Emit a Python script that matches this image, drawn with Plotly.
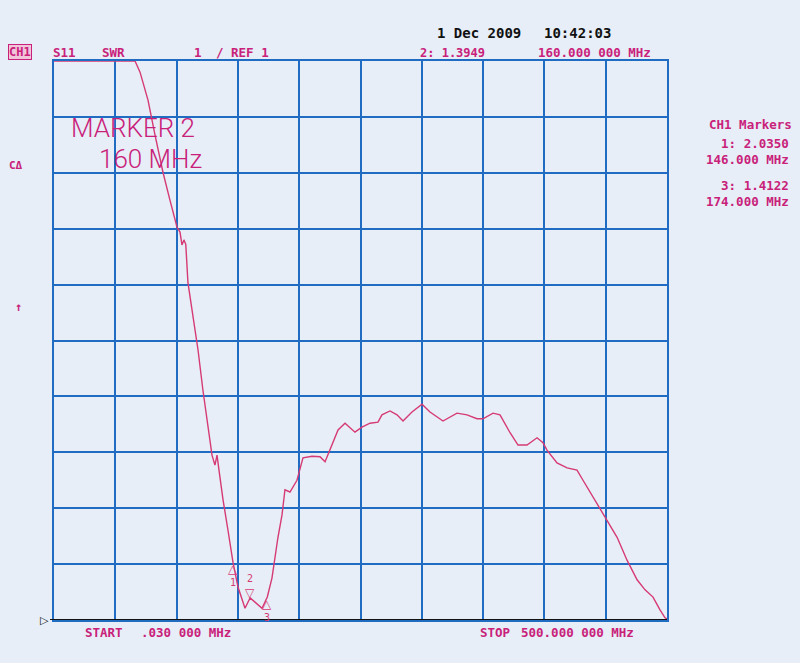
import plotly.graph_objects as go

# ---- data (MHz, SWR) ----
freq_mhz = [0.03, 20.0, 40.0, 60.0, 66.1, 70.2, 76.7, 82.4, 88.9, 94.6, 100.3, 102.8, 104.4,
            106.0, 107.5, 109.3, 113.4, 117.5, 121.5, 125.6, 128.9, 131.3, 133.0, 134.6,
            137.9, 141.9, 146.0, 150.1, 155.8, 160.0, 164.0, 169.7, 174.0, 177.8, 182.7,
            186.0, 188.4, 192.5, 198.2, 203.1, 210.5, 217.0, 221.1, 225.1, 231.7, 237.4,
            245.5, 251.2, 257.8, 264.3, 267.5, 274.1, 279.8, 284.7, 292.0, 300.2, 306.7,
            317.3, 328.7, 336.9, 345.0, 349.9, 358.1, 363.8, 372.0, 378.5, 385.8, 394.0,
            398.9, 402.1, 410.3, 418.5, 426.6, 431.5, 439.7, 447.8, 459.3, 467.4, 475.6,
            482.1, 488.6, 494.3, 498.4, 500.0]
swr = [11.0, 11.0, 11.0, 11.0, 11.0, 10.80, 10.30, 9.68, 9.01, 8.51, 8.03, 7.94, 7.71,
       7.80, 7.72, 7.03, 6.42, 5.83, 5.11, 4.49, 3.95, 3.77, 3.95, 3.68,
       3.15, 2.61, 2.035, 1.59, 1.21, 1.3949, 1.32, 1.21, 1.4122, 1.75, 2.48,
       2.88, 3.33, 3.29, 3.50, 3.90, 3.93, 3.92, 3.83, 4.04, 4.40, 4.52,
       4.36, 4.45, 4.52, 4.54, 4.67, 4.74, 4.67, 4.56, 4.72, 4.86, 4.72,
       4.56, 4.70, 4.67, 4.60, 4.60, 4.70, 4.67, 4.35, 4.13, 4.13, 4.26,
       4.17, 4.04, 3.81, 3.72, 3.68, 3.50, 3.20, 2.91, 2.48, 2.07, 1.72,
       1.54, 1.41, 1.18, 1.04, 1.02]

marker_ids = ["1", "2", "3"]
marker_freq = [146.0, 160.0, 174.0]
marker_swr = [2.0350, 1.3949, 1.4122]

start_mhz = 0.030
stop_mhz = 500.0
ref_swr = 1.0
swr_per_div = 1.0
n_div = 10

BG = "#e7eef7"
GRID = "#1f6cc2"
TRACE = "#d63a74"
MAG = "#c9217a"
MONO = "DejaVu Sans Mono"

# plot area in pixels (for placing text around the grid)
L, R, T, B = 54, 667, 61, 620


def px(x):
    return (x - L) / (R - L)


def py(y):
    return (B - y) / (B - T)


fig = go.Figure()
fig.add_trace(go.Scatter(x=freq_mhz, y=swr, mode="lines",
                         line=dict(color=TRACE, width=1.4), hoverinfo="skip",
                         showlegend=False))

ann = []


def txt(text, x, y, anchor="left", size=12, color=MAG, bold=False, family=MONO,
        weight=None, **kw):
    font = dict(family=family, size=size, color=color)
    if weight is not None:
        font["weight"] = weight
    ann.append(dict(text=("<b>%s</b>" % text) if bold else text, xref="paper", yref="paper",
                    x=px(x), y=py(y), xanchor=anchor, yanchor="middle", showarrow=False,
                    align=anchor if anchor != "center" else "center",
                    font=font, **kw))


# header
txt("CH1", 8, 52, size=12, bold=True, bordercolor=MAG, borderwidth=1, borderpad=0,
    bgcolor="#f1c6da")
txt("S11", 51, 52, size=12.5, bold=True)
txt("SWR", 100, 52, size=12.5, bold=True)
txt("%d" % swr_per_div, 192, 52, size=12.5, bold=True)
txt("/ REF %d" % ref_swr, 214, 52, size=12.5, bold=True)
txt("1 Dec 2009", 435, 33, size=14, bold=True, color="#111111")
txt("10:42:03", 542, 33, size=14, bold=True, color="#111111")
txt("2: %.4f" % marker_swr[1], 418, 53, size=12, bold=True)
txt("%.3f 000 MHz" % marker_freq[1], 536, 53, size=12.5, bold=True)

# right marker table
txt("CH1 Markers", 794, 125, anchor="right", size=12.5, bold=True)
txt("<b>1: %.4f</b><br><b>%.3f MHz</b>" % (marker_swr[0], marker_freq[0]), 791, 152,
    anchor="right", size=12.5)
txt("<b>3: %.4f</b><br><b>%.3f MHz</b>" % (marker_swr[2], marker_freq[2]), 791, 193,
    anchor="right", size=12.5)

# left side
txt("C\u0394", 7, 165, size=11, bold=True)
txt("\u2191", 18, 307, anchor="center", size=12, bold=True)

# big marker label
txt("MARKER 2", 70, 128, size=26, family="Roboto", weight=300, borderpad=0)
txt("160 MHz", 98, 159, size=26, family="Roboto", weight=300, borderpad=0)

# start / stop
txt("START", 83, 632, size=12.5, bold=True)
txt(".030 000 MHz", 139, 632, size=12.5, bold=True)
txt("STOP", 478, 632, size=12.5, bold=True)
txt("%.3f 000 MHz" % stop_mhz, 519, 632, size=12.5, bold=True)

# reference level pointer
ann.append(dict(text="\u25b7", xref="paper", yref="y", x=px(51), y=ref_swr,
                xanchor="right", yanchor="middle", showarrow=False,
                font=dict(family="DejaVu Sans", size=11, color="#111111")))

# marker triangles and numbers
for mid, f, s in zip(marker_ids, marker_freq, marker_swr):
    if mid == "2":
        ann.append(dict(text="\u25bd", x=f, y=s, xref="x", yref="y", xanchor="center",
                        yanchor="bottom", showarrow=False, yshift=-3, borderpad=0,
                        font=dict(family="DejaVu Sans", size=12, color=TRACE)))
        ann.append(dict(text=mid, x=f, y=s, xref="x", yref="y", xanchor="center",
                        yanchor="bottom", showarrow=False, yshift=13, borderpad=0,
                        font=dict(family=MONO, size=10, color=TRACE)))
    else:
        ann.append(dict(text="\u25b3", x=f, y=s, xref="x", yref="y", xanchor="center",
                        yanchor="top", showarrow=False, yshift=1, borderpad=0,
                        font=dict(family="DejaVu Sans", size=12, color=TRACE)))
        ann.append(dict(text=mid, x=f, y=s, xref="x", yref="y", xanchor="center",
                        yanchor="top", showarrow=False, yshift=-14, borderpad=0,
                        font=dict(family=MONO, size=10, color=TRACE)))

axis_common = dict(showticklabels=False, ticks="", showgrid=True, gridcolor=GRID,
                   gridwidth=2, zeroline=False, showline=True, mirror=True,
                   linecolor=GRID, linewidth=2, fixedrange=True)

fig.update_layout(
    width=800, height=663,
    margin=dict(l=L, r=800 - R, t=T, b=663 - B),
    paper_bgcolor=BG, plot_bgcolor=BG,
    xaxis=dict(range=[start_mhz, stop_mhz], tick0=start_mhz,
               dtick=(stop_mhz - start_mhz) / n_div, **axis_common),
    yaxis=dict(range=[ref_swr, ref_swr + n_div * swr_per_div], tick0=ref_swr,
               dtick=swr_per_div, **axis_common),
    annotations=ann,
    shapes=[dict(type="line", xref="paper", yref="y", x0=px(50), x1=1.0,
                 y0=ref_swr, y1=ref_swr, line=dict(color="#111111", width=2),
                 layer="above")],
    showlegend=False,
)

fig.write_html("out.html", config={"displayModeBar": False},
               post_script="document.body.style.margin='0';"
                           "document.body.style.background='%s';" % BG)
